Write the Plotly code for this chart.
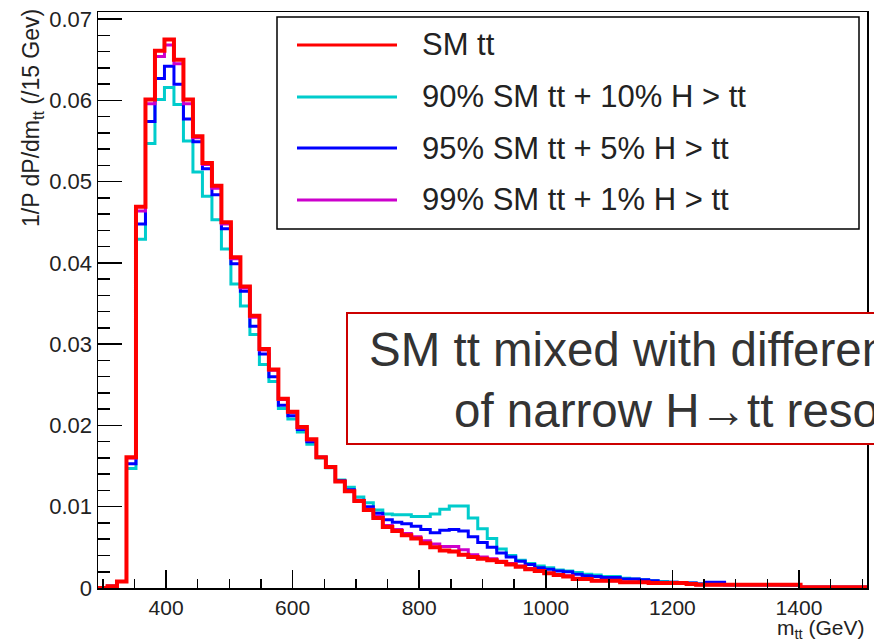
import numpy as np
import plotly.graph_objects as go

# ---------------- data ----------------
BIN_LO = 292.5      # GeV, lower edge of first bin
BIN_WIDTH = 15.0    # GeV
N_BINS = 81

x_tick_vals = [400, 600, 800, 1000, 1200, 1400]
y_tick_vals = [0, 0.01, 0.02, 0.03, 0.04, 0.05, 0.06, 0.07]

sm_tt = [
    0.0000, 0.0002, 0.0008, 0.0161, 0.0469, 0.0601, 0.0661, 0.0675, 0.0650, 0.0601,
    0.0556, 0.0523, 0.0495, 0.0450, 0.0407, 0.0371, 0.0335, 0.0294, 0.0269, 0.0233,
    0.0217, 0.0198, 0.0183, 0.0161, 0.0149, 0.0131, 0.0119, 0.0107, 0.0096, 0.0086,
    0.0075, 0.0070, 0.0065, 0.0061, 0.0055, 0.0050, 0.0046, 0.0045, 0.0041, 0.0038,
    0.0036, 0.0034, 0.0032, 0.0029, 0.0026, 0.0023, 0.0021, 0.0018, 0.0016, 0.0014,
    0.0011, 0.0011, 0.0009, 0.0009, 0.0009, 0.0007, 0.0007, 0.0007, 0.0006, 0.0006,
    0.0006, 0.0006, 0.0005, 0.0004, 0.0004, 0.0004, 0.0004, 0.0004, 0.0004, 0.0004,
    0.0004, 0.0004, 0.0004, 0.0004, 0.0001, 0.0001, 0.0001, 0.0001, 0.0001, 0.0001,
    0.0001,
]
mix_10 = [
    0.0000, 0.0002, 0.0008, 0.0147, 0.0429, 0.0547, 0.0601, 0.0616, 0.0595, 0.0550,
    0.0512, 0.0482, 0.0453, 0.0417, 0.0374, 0.0347, 0.0312, 0.0275, 0.0254, 0.0221,
    0.0208, 0.0192, 0.0177, 0.0160, 0.0148, 0.0133, 0.0124, 0.0112, 0.0105, 0.0096,
    0.0091, 0.0090, 0.0090, 0.0088, 0.0088, 0.0091, 0.0097, 0.0101, 0.0101, 0.0086,
    0.0073, 0.0061, 0.0048, 0.0040, 0.0034, 0.0030, 0.0027, 0.0025, 0.0022, 0.0021,
    0.0019, 0.0017, 0.0016, 0.0014, 0.0014, 0.0012, 0.0011, 0.0010, 0.0009, 0.0008,
    0.0007, 0.0006, 0.0006, 0.0005, 0.0005, 0.0005, 0.0004, 0.0004, 0.0004, 0.0004,
    0.0004, 0.0004, 0.0003, 0.0003, 0.0001, 0.0001, 0.0001, 0.0001, 0.0001, 0.0001,
    0.0001,
]
mix_5 = [
    0.0000, 0.0002, 0.0008, 0.0153, 0.0448, 0.0574, 0.0627, 0.0642, 0.0620, 0.0577,
    0.0549, 0.0516, 0.0484, 0.0442, 0.0399, 0.0365, 0.0322, 0.0288, 0.0260, 0.0225,
    0.0212, 0.0195, 0.0180, 0.0161, 0.0149, 0.0132, 0.0121, 0.0108, 0.0100, 0.0092,
    0.0084, 0.0081, 0.0079, 0.0076, 0.0072, 0.0068, 0.0071, 0.0072, 0.0070, 0.0063,
    0.0056, 0.0050, 0.0043, 0.0038, 0.0033, 0.0029, 0.0025, 0.0023, 0.0021, 0.0020,
    0.0017, 0.0015, 0.0014, 0.0013, 0.0013, 0.0011, 0.0011, 0.0010, 0.0009, 0.0007,
    0.0007, 0.0006, 0.0006, 0.0005, 0.0007, 0.0007, 0.0004, 0.0004, 0.0004, 0.0004,
    0.0004, 0.0004, 0.0004, 0.0004, 0.0001, 0.0001, 0.0001, 0.0001, 0.0001, 0.0001,
    0.0001,
]
mix_1 = [
    0.0000, 0.0002, 0.0008, 0.0160, 0.0464, 0.0596, 0.0654, 0.0668, 0.0645, 0.0596,
    0.0554, 0.0521, 0.0492, 0.0448, 0.0405, 0.0369, 0.0333, 0.0293, 0.0268, 0.0232,
    0.0216, 0.0197, 0.0182, 0.0161, 0.0149, 0.0131, 0.0119, 0.0107, 0.0097, 0.0088,
    0.0077, 0.0072, 0.0067, 0.0063, 0.0058, 0.0054, 0.0051, 0.0051, 0.0047, 0.0041,
    0.0038, 0.0036, 0.0033, 0.0030, 0.0027, 0.0024, 0.0021, 0.0018, 0.0016, 0.0015,
    0.0012, 0.0011, 0.0009, 0.0009, 0.0009, 0.0007, 0.0007, 0.0007, 0.0006, 0.0006,
    0.0006, 0.0006, 0.0005, 0.0004, 0.0004, 0.0004, 0.0004, 0.0004, 0.0004, 0.0004,
    0.0004, 0.0004, 0.0004, 0.0004, 0.0001, 0.0001, 0.0001, 0.0001, 0.0001, 0.0001,
    0.0001,
]

series_names = ["SM tt", "90% SM tt + 10% H > tt", "95% SM tt + 5% H > tt", "99% SM tt + 1% H > tt"]
series_values = [sm_tt, mix_10, mix_5, mix_1]
series_colors = ["#ff0000", "#00cccc", "#0000ff", "#cc00cc"]
series_widths = [4, 3, 3, 3]
draw_order = [1, 2, 3, 0]   # cyan, blue, magenta, then red on top

note_lines = ["SM tt mixed with different fractions", "of narrow H\u2192tt resonance"]

x_title = "m<sub>tt</sub> (GeV)"
y_title = "1/P dP/dm<sub>tt</sub> (/15 Gev)"

# ---------------- layout geometry (pixels) ----------------
W, H = 874, 639
L, R, T, B = 98, 867, 12, 588

def px_x(p):
    return (p - L) / (R - L)

def px_y(p):
    return (B - p) / (B - T)

edges = BIN_LO + BIN_WIDTH * np.arange(N_BINS + 1)
x_range = [edges[0], edges[-1]]
y_max = 1.05 * max(sm_tt)

FONT = "Liberation Sans, Arial, Helvetica, sans-serif"
TXT = "#222222"
TICK_SIZE = 22

fig = go.Figure()
for i in draw_order:
    vals = list(series_values[i]) + [series_values[i][-1]]
    fig.add_trace(go.Scatter(
        x=edges, y=vals, mode="lines", line_shape="hv",
        line=dict(color=series_colors[i], width=series_widths[i]),
        name=series_names[i], showlegend=False, hoverinfo="skip",
    ))

fig.update_layout(
    width=W, height=H,
    margin=dict(l=L, r=W - R, t=T, b=H - B, pad=0, autoexpand=False),
    paper_bgcolor="white", plot_bgcolor="white",
    font=dict(family=FONT, color=TXT, size=TICK_SIZE),
    showlegend=False,
)
fig.update_xaxes(
    range=x_range, showgrid=False, zeroline=False, automargin=False,
    showline=True, linecolor="black", linewidth=1.5, mirror=True,
    tickmode="array", tickvals=x_tick_vals, ticktext=[str(v) for v in x_tick_vals],
    ticks="inside", ticklen=18, tickwidth=1.5, tickcolor="black",
    minor=dict(dtick=50, tick0=0, ticks="inside", ticklen=9, tickwidth=1.5, tickcolor="black", showgrid=False),
    tickfont=dict(size=21, color=TXT),
)
fig.update_yaxes(
    range=[0, y_max], showgrid=False, zeroline=False, automargin=False,
    showline=True, linecolor="black", linewidth=1.5, mirror=True,
    tickmode="array", tickvals=y_tick_vals, ticktext=[("%g" % v) for v in y_tick_vals],
    ticks="inside", ticklen=24, tickwidth=1.5, tickcolor="black",
    minor=dict(dtick=0.002, tick0=0, ticks="inside", ticklen=12, tickwidth=1.5, tickcolor="black", showgrid=False),
    tickfont=dict(size=TICK_SIZE, color=TXT),
)

shapes = []
annotations = []

# axis titles
annotations.append(dict(
    xref="paper", yref="paper", x=px_x(33), y=px_y(7), xanchor="center", yanchor="top",
    text=y_title, textangle=-90, showarrow=False, font=dict(size=23, color=TXT),
))
annotations.append(dict(
    xref="paper", yref="paper", x=px_x(867), y=px_y(629), xanchor="right", yanchor="middle",
    text=x_title, showarrow=False, font=dict(size=21, color=TXT),
))

# legend (box, line samples, labels)
shapes.append(dict(type="rect", xref="paper", yref="paper",
                   x0=px_x(277), x1=px_x(859), y0=px_y(17), y1=px_y(229),
                   line=dict(color="black", width=1.5), fillcolor="white", layer="above"))
row_y = [45, 97, 148, 200]
for k in range(len(series_names)):
    shapes.append(dict(type="line", xref="paper", yref="paper",
                       x0=px_x(297), x1=px_x(397), y0=px_y(row_y[k]), y1=px_y(row_y[k]),
                       line=dict(color=series_colors[k], width=3), layer="above"))
    annotations.append(dict(
        xref="paper", yref="paper", x=px_x(420), y=px_y(row_y[k]), xanchor="left", yanchor="middle",
        text=series_names[k].replace(">", "&gt;"), showarrow=False, font=dict(size=31, color=TXT),
    ))

# note box (extends past the right edge of the picture, as in the original)
shapes.append(dict(type="rect", xref="paper", yref="paper",
                   x0=px_x(347), x1=px_x(920), y0=px_y(313), y1=px_y(444),
                   line=dict(color="#cc0000", width=2), fillcolor="white", layer="above"))
annotations.append(dict(
    xref="paper", yref="paper", x=px_x(367), y=px_y(349), xanchor="left", yanchor="middle",
    text=note_lines[0], showarrow=False, font=dict(size=47.5, color="#333333"),
))
annotations.append(dict(
    xref="paper", yref="paper", x=px_x(452), y=px_y(411), xanchor="left", yanchor="middle",
    text=note_lines[1], showarrow=False, font=dict(size=47.5, color="#333333"),
))

fig.update_layout(shapes=shapes, annotations=annotations)
fig.write_html(
    "out.html",
    config={"displayModeBar": False, "staticPlot": True},
    post_script="document.body.style.margin='0';document.body.style.overflow='hidden';",
)
